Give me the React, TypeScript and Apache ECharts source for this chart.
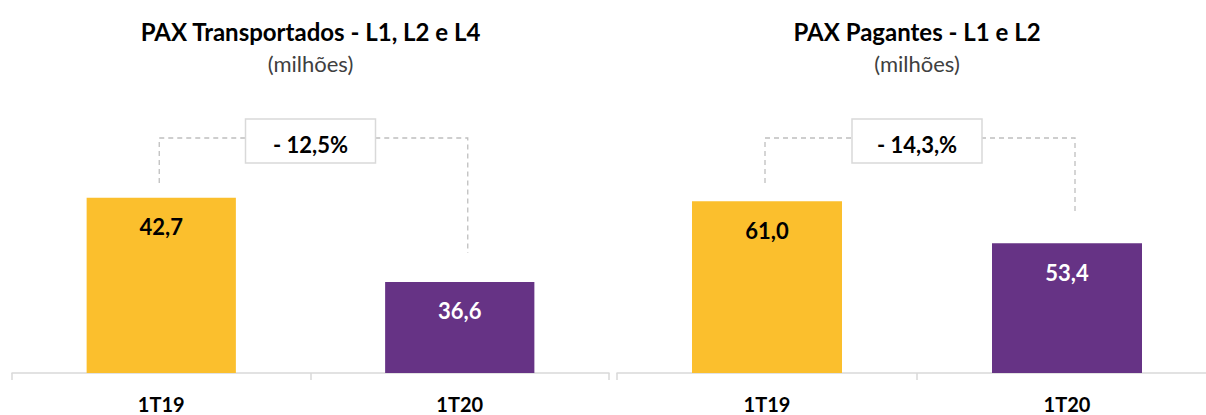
import React, { useEffect, useRef } from "react";
import * as echarts from "echarts";

const categories = ["1T19", "1T20"];
const transportadosValues = [42.7, 36.6];
const pagantesValues = [61.0, 53.4];
const panelValues = [transportadosValues, pagantesValues];
const panelTitles = ["PAX Transportados - L1, L2 e L4", "PAX Pagantes - L1 e L2"];
const panelSubtitle = "(milhões)";
const changeLabels = ["- 12,5%", "- 14,3,%"];
const axisMins = [30, 30];
const axisMaxs = [45, 65];
const barColors = ["#FBBF2D", "#663385"];
const labelColors = ["#000000", "#FFFFFF"];

const FONT = "Lato, 'Noto Sans', sans-serif";
const fmt = (v: number) => v.toFixed(1).replace(".", ",");

export default function App() {
  const ref = useRef<HTMLDivElement>(null);

  useEffect(() => {
    document.body.style.margin = "0";
    document.body.style.overflow = "hidden";
    if (!ref.current) return;
    const chart = echarts.init(ref.current, undefined, { renderer: "svg" });

    const grids = [
      { left: 12, width: 597, top: 166, bottom: 42 },
      { left: 617, width: 600, top: 179, bottom: 42 },
    ];

    const xAxes = grids.map((_, i) => ({
      type: "category" as const,
      gridIndex: i,
      data: categories,
      axisLine: { lineStyle: { color: "#D9D9D9", width: 1.5 } },
      axisTick: { show: true, length: 7, lineStyle: { color: "#D9D9D9", width: 1.5 } },
      axisLabel: {
        fontFamily: FONT,
        fontWeight: "bold" as const,
        fontSize: 20,
        color: "#000000",
        margin: 21,
      },
    }));

    const yAxes = grids.map((_, i) => ({
      type: "value" as const,
      gridIndex: i,
      min: axisMins[i],
      max: axisMaxs[i],
      show: false,
      splitLine: { show: false },
    }));

    const series = panelValues.map((vals, i) => ({
      type: "bar" as const,
      xAxisIndex: i,
      yAxisIndex: i,
      barWidth: "50%",
      silent: true,
      data: vals.map((v, j) => ({
        value: v,
        itemStyle: { color: barColors[j] },
        label: { color: labelColors[j] },
      })),
      label: {
        show: true,
        position: "insideTop" as const,
        distance: 18,
        fontFamily: FONT,
        fontWeight: "bold" as const,
        fontSize: 22,
        formatter: (p: any) => fmt(p.value),
      },
    }));

    chart.setOption({
      animation: false,
      grid: grids,
      xAxis: xAxes,
      yAxis: yAxes,
      series,
    });

    const graphics: any[] = [];
    panelValues.forEach((vals, i) => {
      const p0 = chart.convertToPixel({ xAxisIndex: i, yAxisIndex: i }, [categories[0], vals[0]]) as number[];
      const p1 = chart.convertToPixel({ xAxisIndex: i, yAxisIndex: i }, [categories[1], vals[1]]) as number[];
      const mid = (p0[0] + p1[0]) / 2;
      const lx = p0[0] - 2;
      const rx = p1[0] + 8;
      const hy = 138;
      graphics.push({
        type: "polyline",
        silent: true,
        shape: { points: [[lx, 183], [lx, hy], [rx, hy], [rx, p1[1] - 29]] },
        style: { stroke: "#BFBFBF", lineWidth: 1.3, lineDash: [5, 4], fill: "none" },
      });
      graphics.push({
        type: "rect",
        silent: true,
        shape: { x: mid - 65, y: 119, width: 130, height: 44 },
        style: { fill: "#FFFFFF", stroke: "#D9D9D9", lineWidth: 1.5 },
      });
      graphics.push({
        type: "text",
        silent: true,
        x: mid,
        y: 144,
        style: {
          text: changeLabels[i],
          fontFamily: FONT,
          fontWeight: "bold",
          fontSize: 22,
          fill: "#000000",
          align: "center",
          verticalAlign: "middle",
        },
      });
      graphics.push({
        type: "text",
        silent: true,
        x: mid,
        y: 31,
        style: {
          text: panelTitles[i],
          fontFamily: FONT,
          fontWeight: "bold",
          fontSize: 24,
          fill: "#000000",
          align: "center",
          verticalAlign: "middle",
        },
      });
      graphics.push({
        type: "text",
        silent: true,
        x: mid,
        y: 63,
        style: {
          text: panelSubtitle,
          fontFamily: FONT,
          fontSize: 22,
          fill: "#404040",
          align: "center",
          verticalAlign: "middle",
        },
      });
    });

    chart.setOption({ graphic: graphics });

    return () => chart.dispose();
  }, []);

  return (
    <div style={{ width: 1206, height: 415, overflow: "hidden" }}>
      <div ref={ref} style={{ width: 1230, height: 415 }} />
    </div>
  );
}
